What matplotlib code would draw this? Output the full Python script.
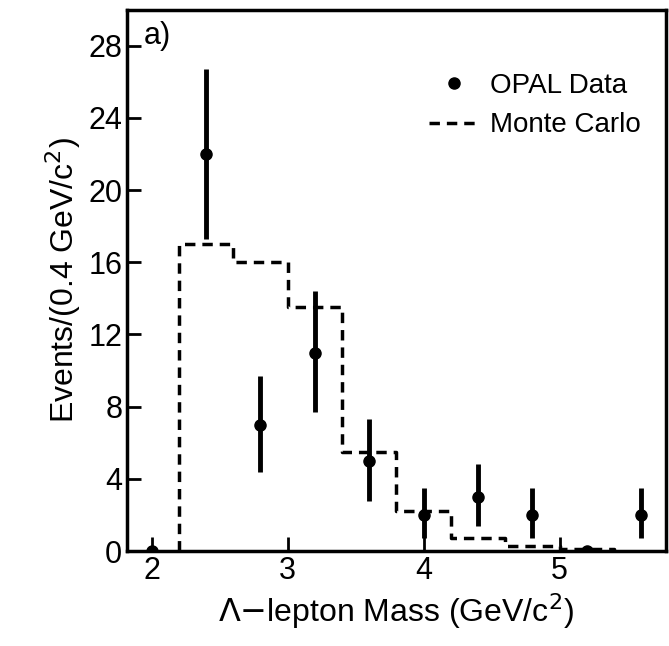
import numpy as np
import matplotlib.pyplot as plt
from matplotlib.lines import Line2D

# OPAL data points
mass = [2.0, 2.4, 2.8, 3.2, 3.6, 4.0, 4.4, 4.8, 5.2, 5.6]
events = [0, 22, 7, 11, 5, 2, 3, 2, 0, 2]
err_lo = [0, 4.7, 2.6, 3.3, 2.2, 1.3, 1.6, 1.3, 0, 1.3]
err_hi = [0, 4.7, 2.7, 3.4, 2.3, 1.5, 1.8, 1.5, 0, 1.5]

# Monte Carlo histogram
mc_edges = [2.2, 2.6, 3.0, 3.4, 3.8, 4.2, 4.6, 5.0, 5.4]
mc_vals = [17, 16, 13.5, 5.5, 2.2, 0.7, 0.3, 0.1]

plt.rcParams['font.family'] = ['Liberation Sans', 'DejaVu Sans']
fig = plt.figure(figsize=(6.69, 6.46), dpi=100)
ax = fig.add_axes([0.19, 0.147, 0.805, 0.838])

xs = [mc_edges[0]] + mc_edges
ys = [0] + mc_vals + [0]
ax.step(xs, ys, where='post', color='black', linestyle=(0, (3, 2)), linewidth=2.5)
ax.errorbar(mass, events, yerr=[err_lo, err_hi], fmt='o', color='black', ms=8,
            elinewidth=3.5, capsize=0)

ax.set_xlim(1.82, 5.78)
ax.set_ylim(0, 30)
ax.set_yticks(range(0, 29, 4))
ax.set_xticks([2, 3, 4, 5])
ax.tick_params(direction='in', which='both', labelsize=22, width=2, length=10)
for s in ax.spines.values():
    s.set_linewidth(2.5)

ax.set_xlabel(r'$\Lambda$$-$lepton Mass (GeV/c$^2$)', fontsize=23)
ax.set_ylabel(r'Events/(0.4 GeV/c$^2$)', fontsize=23)
ax.text(0.03, 0.98, 'a)', transform=ax.transAxes, fontsize=22, va='top')

handles = [Line2D([], [], color='black', marker='o', ms=8, ls='none'),
           Line2D([], [], color='black', ls=(0, (3, 2)), lw=2.5)]
ax.legend(handles, ['OPAL Data', 'Monte Carlo'], loc='upper right', bbox_to_anchor=(1.0, 0.93),
          frameon=False, fontsize=20, handlelength=1.8, handletextpad=0.4)

fig.savefig('out.png', dpi=100)
